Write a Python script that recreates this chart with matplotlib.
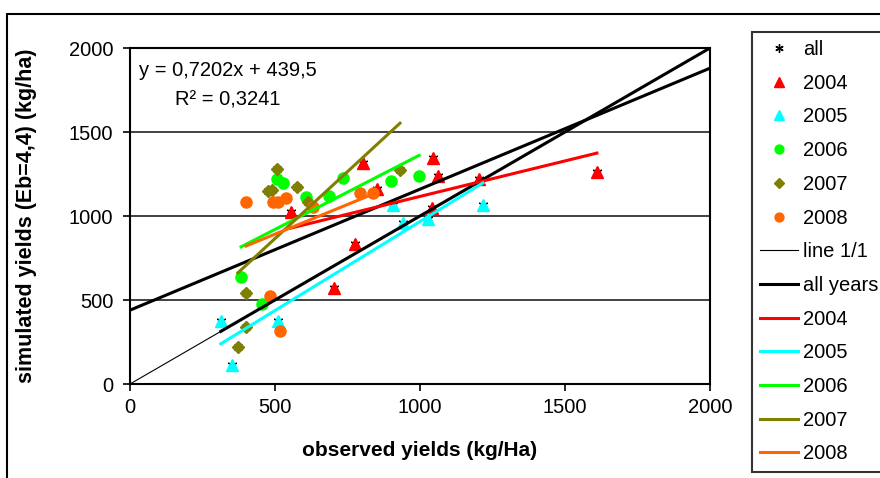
import matplotlib
matplotlib.use("Agg")
import matplotlib.pyplot as plt
from matplotlib.lines import Line2D
from matplotlib.patches import Rectangle
import numpy as np

plt.rcParams['font.family'] = ['Liberation Sans', 'DejaVu Sans']
FS = 14.5

# observed / simulated yields (kg/ha) per year
obs_2004 = [555, 703, 776, 803, 852, 1041, 1045, 1062, 1203, 1610]
sim_2004 = [1024, 571, 833, 1315, 1161, 1048, 1345, 1238, 1220, 1262]
obs_2005 = [313, 351, 510, 907, 941, 1028, 1217]
sim_2005 = [375, 113, 375, 1065, 958, 982, 1065]
obs_2006 = [383, 455, 507, 528, 607, 686, 734, 900, 997]
sim_2006 = [637, 476, 1220, 1196, 1113, 1119, 1226, 1208, 1238]
obs_2007 = [372, 400, 400, 476, 490, 507, 576, 614, 931]
sim_2007 = [220, 339, 542, 1149, 1155, 1280, 1173, 1083, 1274]
obs_2008 = [400, 483, 493, 510, 517, 538, 631, 793, 838]
sim_2008 = [1083, 524, 1083, 1083, 315, 1107, 1054, 1137, 1137]

years = ['2004', '2005', '2006', '2007', '2008']
obs = [obs_2004, obs_2005, obs_2006, obs_2007, obs_2008]
sim = [sim_2004, sim_2005, sim_2006, sim_2007, sim_2008]

# trend over all years (Excel trendline)
slope_all = 0.7202
icpt_all = 439.5
r2_all = 0.3241

colors = ['#FF0000', '#00FFFF', '#00FF00', '#808000', '#FF6600']
markers = ['^', '^', 'o', 'D', 'o']
msizes = [9, 9, 8, 6.5, 8]

fig = plt.figure(figsize=(8.8, 4.78), dpi=100)
ax = fig.add_axes([130/880, 1 - 384/478, 580/880, 336/478])

# chart area frame
fig.patches.append(Rectangle((7/880, -0.5), 1.5, 1.5 - 14/478, transform=fig.transFigure,
                             fill=False, edgecolor='black', lw=1.5))

x_all = np.concatenate([np.array(o, float) for o in obs])
y_all = np.concatenate([np.array(s, float) for s in sim])

# all points
ax.plot(x_all, y_all, ls='none', marker=(6, 2, 0), ms=7, mec='black', mew=1, zorder=3)

for o, s, c, m, ms in zip(obs, sim, colors, markers, msizes):
    ax.plot(o, s, ls='none', marker=m, ms=ms, color=c, mec=c, zorder=4)

# line 1/1
xx = np.array([0, 2000])
ax.plot(xx, xx, color='black', lw=0.8, zorder=5)
xs = np.array([x_all.min(), 2000])
ax.plot(xs, xs, color='black', lw=2.2, zorder=5)

# all years trend
ax.plot(xx, slope_all * xx + icpt_all, color='black', lw=2.2, zorder=5)

# trend per year
for o, s, c in zip(obs, sim, colors):
    o = np.array(o, float)
    k, b = np.polyfit(o, s, 1)
    xr = np.array([o.min(), o.max()])
    ax.plot(xr, k * xr + b, color=c, lw=2.2, zorder=5)

ax.set_xlim(0, 2000)
ax.set_ylim(0, 2000)
ax.set_xticks(np.arange(0, 2001, 500))
ax.set_yticks(np.arange(0, 2001, 500))
ax.grid(axis='y', color='#333333', lw=1.3)
ax.set_axisbelow(True)
ax.tick_params(direction='out', length=5, width=1.2, colors='black', labelsize=FS)
ax.tick_params(axis='y', pad=7)
ax.tick_params(axis='x', pad=5)
for sp in ax.spines.values():
    sp.set_linewidth(1.5)

ax.set_xlabel('observed yields (kg/Ha)', fontweight='bold', fontsize=15)
ax.set_ylabel('simulated yields (Eb=4,4) (kg/ha)', fontweight='bold', fontsize=15.5)
ax.xaxis.set_label_coords(0.5, -0.17)
ax.yaxis.set_label_coords(-0.16, 0.5)

ax.text(0.169, 0.934, 'y = 0,7202x + 439,5', transform=ax.transAxes,
        ha='center', va='center', fontsize=FS)
ax.text(0.169, 0.845, 'R² = 0,3241', transform=ax.transAxes,
        ha='center', va='center', fontsize=FS)

handles = [Line2D([], [], ls='none', marker=(6, 2, 0), ms=6, mec='black', mew=1)]
for c, m, ms in zip(colors, markers, msizes):
    handles.append(Line2D([], [], ls='none', marker=m, ms=ms * 0.8, color=c, mec=c))
handles.append(Line2D([], [], color='black', lw=0.8))
handles.append(Line2D([], [], color='black', lw=2.2))
for c in colors:
    handles.append(Line2D([], [], color=c, lw=2.2))
labels = ['all'] + years + ['line 1/1', 'all years'] + years

leg = fig.legend(handles, labels, loc='upper left', bbox_to_anchor=(752/880, 1 - 32/478),
                 bbox_transform=fig.transFigure, frameon=True, fancybox=False,
                 edgecolor='black', labelspacing=0.73, handlelength=1.9,
                 handletextpad=0.25, borderpad=0.4, borderaxespad=0, fontsize=FS)
leg.get_frame().set_linewidth(1.5)

fig.savefig('out.png', dpi=100)
